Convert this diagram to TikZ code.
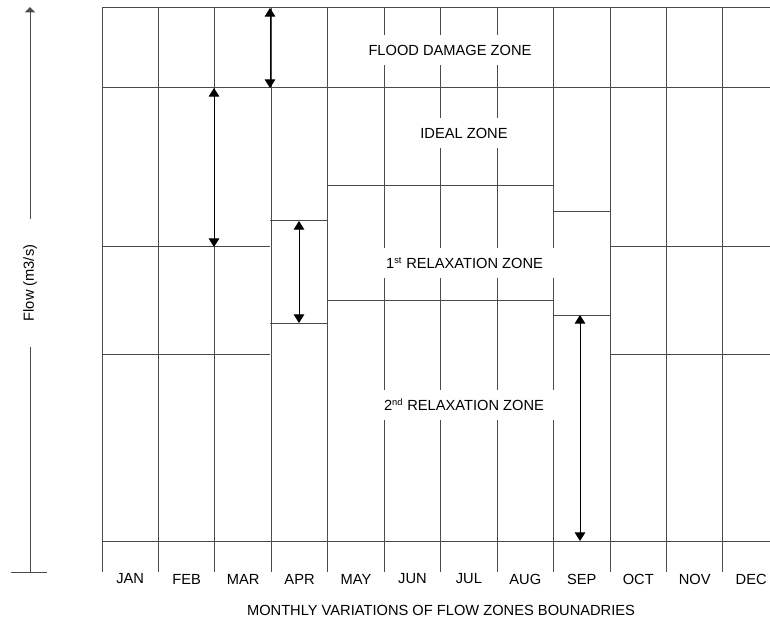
\documentclass[tikz,border=0pt]{standalone}
\usepackage{fontspec}
\setmainfont{Liberation Sans}
\usetikzlibrary{arrows.meta}
\tikzset{every picture/.style={line width=0.75pt}}

\begin{document}
\begin{tikzpicture}[x=0.75pt,y=0.75pt,yscale=-1,xscale=1,
  grid/.style={draw={rgb, 255:red, 75; green, 75; blue, 75 }},
  span/.style={{Triangle[width=8pt,length=6.5pt]}-{Triangle[width=8pt,length=6.5pt]}, draw=black},
  zone/.style={fill=white, inner xsep=8pt, minimum height=23pt, font=\fontsize{11}{13}\selectfont},
  month/.style={font=\fontsize{11}{13}\selectfont}]
\useasboundingbox (0,0) rectangle (770,623);

%Vertical grid lines
\foreach \i in {0,...,11}
  \draw [grid] ({102+56.45*\i},8) -- ({102+56.45*\i},572);
%Horizontal lines across all months
\draw [grid] (102,8) -- (770,8);
\draw [grid] (102,88) -- (770,88);
\draw [grid] (102,541) -- (770,541);
%Zone bounds JAN-MAR
\draw [grid] (102,247) -- (270,247);
\draw [grid] (102,354) -- (270,354);
%Zone bounds APR
\draw [grid] (270,221) -- (327,221);
\draw [grid] (270,323) -- (327,323);
%Zone bounds MAY-AUG
\draw [grid] (327,186) -- (553,186);
\draw [grid] (327,301) -- (553,301);
%Zone bounds SEP
\draw [grid] (553,212) -- (610,212);
\draw [grid] (553,315) -- (610,315);
%Zone bounds OCT-DEC
\draw [grid] (610,247) -- (770,247);
\draw [grid] (610,354) -- (770,354);

% Zone labels
\node [zone] (flood) at (450,50) {FLOOD DAMAGE ZONE};
\node [zone] (ideal) at (464,133) {IDEAL ZONE};
\node [zone] (relax1) at (464.5,263) {1\textsuperscript{\fontsize{7}{8}\selectfont st} RELAXATION ZONE};
\node [zone] (relax2) at (464,405) {2\textsuperscript{\fontsize{7}{8}\selectfont nd} RELAXATION ZONE};

% Range arrows
\coordinate (floodtop) at (270,8);
\coordinate (floodbot) at (270,88);
\coordinate (idealtop) at (214,88);
\coordinate (idealbot) at (214,247);
\coordinate (aprtop) at (299,221);
\coordinate (aprbot) at (299,323);
\coordinate (septop) at (580,315);
\coordinate (sepbot) at (580,541);
\draw [span] (floodtop) -- (floodbot);
\draw [span] (idealtop) -- (idealbot);
\draw [span] (aprtop) -- (aprbot);
\draw [span] (septop) -- (sepbot);

% Flow axis
\node [month, rotate=90, inner xsep=19pt] (flow) at (30,283) {Flow (m3/s)};
\coordinate (axistop) at (30,7);
\coordinate (axisbot) at (30,572);
\coordinate (tickl) at (11,572);
\coordinate (tickr) at (47,572);
\draw [grid, -{Triangle[width=7.5pt,length=4pt]}] (flow.east) -- (axistop);
\draw [grid] (flow.west) -- (axisbot);
\draw [grid] (tickl) -- (tickr);

% Month labels
\foreach \m [count=\i from 0] in {JAN,FEB,MAR,APR,MAY,JUN,JUL,AUG,SEP,OCT,NOV,DEC}
  \node [month] (m\i) at ({130.2+56.45*\i},579) {\m};

% Title
\node [month] (title) at (441,610) {MONTHLY VARIATIONS OF FLOW ZONES BOUNADRIES};

\end{tikzpicture}
\end{document}
